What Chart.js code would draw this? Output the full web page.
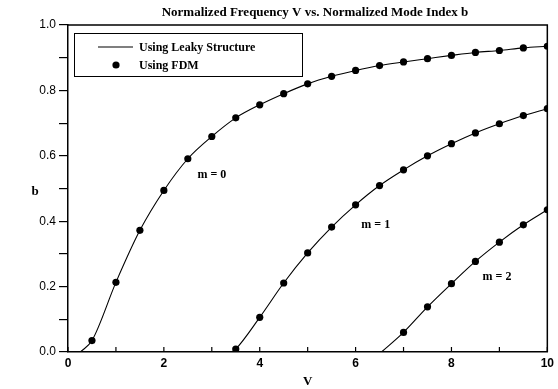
<!DOCTYPE html>
<html>
<head>
<meta charset="utf-8">
<script src="https://cdn.jsdelivr.net/npm/chart.js@4"></script>
<style>
  html, body { margin: 0; padding: 0; background: #fff; }
  #wrap { width: 558px; height: 389px; }
</style>
</head>
<body>
<div id="wrap"><canvas id="chart" width="558" height="389"></canvas></div>
<script>
// FDM points
const V_M0 = [0.5, 1.0, 1.5, 2.0, 2.5, 3.0, 3.5, 4.0, 4.5, 5.0, 5.5, 6.0, 6.5, 7.0, 7.5, 8.0, 8.5, 9.0, 9.5, 10.0];
const B_M0 = [0.035, 0.213, 0.372, 0.494, 0.591, 0.659, 0.716, 0.756, 0.79, 0.82, 0.843, 0.861, 0.876, 0.887, 0.897, 0.907, 0.916, 0.922, 0.93, 0.935];

const V_M1 = [3.5, 4.0, 4.5, 5.0, 5.5, 6.0, 6.5, 7.0, 7.5, 8.0, 8.5, 9.0, 9.5, 10.0];
const B_M1 = [0.009, 0.106, 0.211, 0.303, 0.382, 0.45, 0.509, 0.557, 0.6, 0.637, 0.67, 0.698, 0.723, 0.744];

const V_M2 = [7.0, 7.5, 8.0, 8.5, 9.0, 9.5, 10.0];
const B_M2 = [0.06, 0.138, 0.209, 0.277, 0.336, 0.389, 0.435];

// where each leaky-structure curve leaves the axis (b = 0)
const CUTOFF_V = [0.26, 3.42, 6.54];
const MODE_LABELS = ['m = 0', 'm = 1', 'm = 2'];

const TITLE = 'Normalized Frequency V vs. Normalized Mode Index b';
const SERIF = "'Liberation Serif', 'Times New Roman', serif";
const SANS = "'Liberation Sans', Arial, sans-serif";

function points(vs, bs) {
  return vs.map((v, i) => ({ x: v, y: bs[i] }));
}

function curve(cut, vs, bs) {
  return [{ x: cut, y: 0 }].concat(points(vs, bs));
}

function dotSet(label, vs, bs) {
  return {
    label: label,
    data: points(vs, bs),
    showLine: false,
    pointRadius: 3.6,
    pointBackgroundColor: '#000',
    pointBorderColor: '#000',
    pointBorderWidth: 0,
    order: 0,
  };
}

function lineSet(label, cut, vs, bs) {
  return {
    label: label,
    data: curve(cut, vs, bs),
    showLine: true,
    borderColor: '#000',
    borderWidth: 1.1,
    pointRadius: 0,
    cubicInterpolationMode: 'monotone',
    order: 1,
  };
}

// draws the frame, inward x ticks, the title, "b", the mode labels and the boxed legend
const extras = {
  id: 'extras',
  afterDraw(chart) {
    const { ctx, chartArea: a, scales } = chart;
    ctx.save();
    ctx.strokeStyle = '#000';
    ctx.lineWidth = 1.5;
    ctx.beginPath();
    ctx.moveTo(a.left, a.top);
    ctx.lineTo(a.right, a.top);
    ctx.lineTo(a.right, a.bottom);
    ctx.stroke();

    ctx.lineWidth = 1.2;
    for (let v = 0; v <= 10; v++) {
      const x = scales.x.getPixelForValue(v);
      ctx.beginPath();
      ctx.moveTo(x, a.bottom);
      ctx.lineTo(x, a.bottom - 5);
      ctx.stroke();
    }

    ctx.fillStyle = '#000';
    ctx.textBaseline = 'middle';
    ctx.textAlign = 'center';
    ctx.font = 'bold 13px ' + SERIF;
    ctx.fillText(TITLE, 315, 13);

    ctx.font = 'bold 13px ' + SERIF;
    ctx.fillText('b', 35, 192);

    // mode labels sit next to their curves
    ctx.font = 'bold 12px ' + SERIF;
    const spots = [[3.0, 0.542], [6.42, 0.39], [8.95, 0.23]];
    spots.forEach((s, i) => {
      ctx.fillText(MODE_LABELS[i], scales.x.getPixelForValue(s[0]), scales.y.getPixelForValue(s[1]));
    });

    // legend box
    ctx.lineWidth = 1;
    ctx.strokeRect(74.5, 33.5, 228, 43);
    ctx.lineWidth = 1.1;
    ctx.beginPath();
    ctx.moveTo(98, 47);
    ctx.lineTo(133, 47);
    ctx.stroke();
    ctx.beginPath();
    ctx.arc(116, 65, 3.6, 0, Math.PI * 2);
    ctx.fill();
    ctx.textAlign = 'left';
    ctx.font = 'bold 12px ' + SERIF;
    ctx.fillText('Using Leaky Structure', 139, 47.5);
    ctx.fillText('Using FDM', 139, 65.5);
    ctx.restore();
  },
};

new Chart(document.getElementById('chart').getContext('2d'), {
  type: 'scatter',
  data: {
    datasets: [
      dotSet('Using FDM', V_M0, B_M0),
      dotSet('Using FDM m=1', V_M1, B_M1),
      dotSet('Using FDM m=2', V_M2, B_M2),
      lineSet('Using Leaky Structure', CUTOFF_V[0], V_M0, B_M0),
      lineSet('Using Leaky Structure m=1', CUTOFF_V[1], V_M1, B_M1),
      lineSet('Using Leaky Structure m=2', CUTOFF_V[2], V_M2, B_M2),
    ],
  },
  options: {
    responsive: false,
    animation: false,
    layout: { padding: { top: 25, right: 7, left: 0, bottom: 0 } },
    plugins: {
      legend: { display: false },
      title: { display: false },
      tooltip: { enabled: false },
    },
    scales: {
      x: {
        type: 'linear',
        min: 0,
        max: 10,
        ticks: {
          stepSize: 1,
          autoSkip: false,
          maxRotation: 0,
          padding: 4,
          color: '#000',
          font: { family: SANS, size: 12, weight: 'bold' },
          callback: (v) => (v % 2 === 0 ? String(v) : ''),
        },
        grid: { drawOnChartArea: false, drawTicks: false },
        border: { color: '#000', width: 1.5 },
        title: {
          display: true,
          text: 'V',
          color: '#000',
          padding: 0,
          font: { family: SERIF, size: 13, weight: 'bold' },
        },
        afterFit: (s) => { s.height = 37; },
      },
      y: {
        min: 0,
        max: 1,
        ticks: {
          stepSize: 0.1,
          autoSkip: false,
          padding: 3,
          color: '#000',
          font: { family: SANS, size: 12 },
          callback: (v) => (Math.round(v * 10) % 2 === 0 ? v.toFixed(1) : ''),
        },
        grid: { drawOnChartArea: false, drawTicks: true, tickLength: 9, color: '#000', lineWidth: 1.2 },
        border: { color: '#000', width: 1.5 },
        afterFit: (s) => { s.width = 68; },
      },
    },
  },
  plugins: [extras],
});
</script>
</body>
</html>
